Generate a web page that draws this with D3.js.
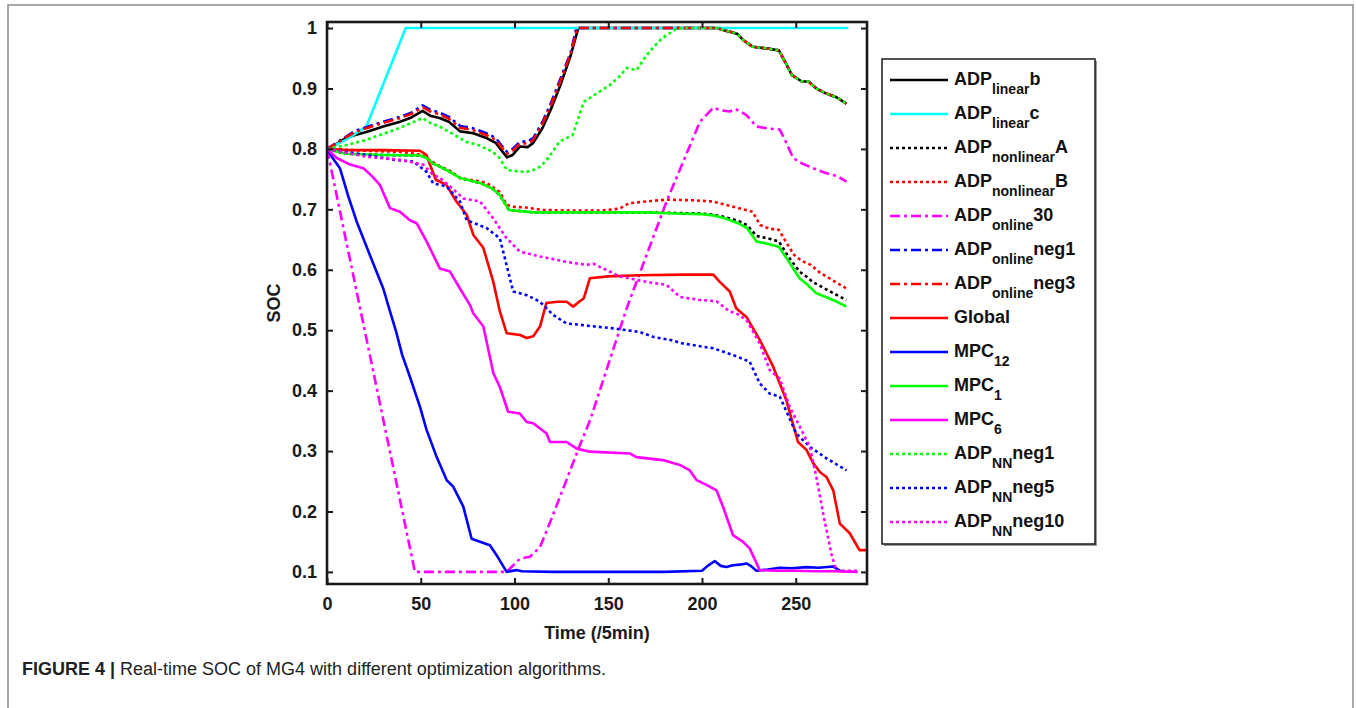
<!DOCTYPE html>
<html>
<head>
  <meta charset="utf-8">
  <title>Real-time SOC of MG4</title>
  <script src="https://d3js.org/d3.v7.min.js"></script>
  <style>
    body { margin: 0; background: #fff; }
    svg text { font-family: "Liberation Sans", Arial, sans-serif; }
  </style>
</head>
<body>
  <div id="chart"></div>

  <script>
    const xTicks = [0, 50, 100, 150, 200, 250];
    const yTicks = [0.1, 0.2, 0.3, 0.4, 0.5, 0.6, 0.7, 0.8, 0.9, 1];

    // shared decline of the curves that sat at SOC = 1
    const topDecline = [[208,1.0],[212,0.996],[215,0.994],[219,0.99],[222,0.98],[227,0.969],[235,0.966],[241,0.963],
      [245,0.94],[248,0.922],[253,0.912],[257,0.911],[261,0.9],[266,0.892],[272,0.885],[277,0.875]];

    const adpLinearB = [[0,0.8],[5,0.808],[10,0.818],[15,0.823],[21,0.828],[30,0.837],[39,0.845],[45,0.852],[51,0.863],
      [55,0.855],[60,0.851],[65,0.845],[71,0.829],[78,0.826],[85,0.818],[90,0.81],[93,0.798],[96,0.786],[99,0.79],
      [103,0.804],[107,0.803],[110,0.81],[115,0.835],[120,0.87],[125,0.91],[130,0.955],[134,1.0], ...topDecline];
    const adpLinearC = [[0,0.8],[10,0.815],[21,0.837],[42,1.0],[278,1.0]];
    const adpNonlinearA = [[0,0.8],[10,0.792],[30,0.79],[50,0.789],[53,0.785],[57,0.775],[60,0.771],[65,0.763],[71,0.752],
      [76,0.748],[82,0.743],[88,0.735],[92,0.724],[97,0.699],[110,0.695],[140,0.695],[170,0.695],[186,0.694],[200,0.693],
      [206,0.691],[211,0.688],[216,0.684],[220,0.68],[224,0.674],[229,0.656],[235,0.652],[241,0.647],[246,0.622],
      [252,0.597],[256,0.588],[259,0.58],[266,0.568],[272,0.558],[277,0.55]];
    const adpNonlinearB = [[0,0.8],[20,0.797],[40,0.795],[51,0.79],[56,0.779],[60,0.772],[66,0.763],[71,0.752],[78,0.748],
      [85,0.744],[92,0.729],[96,0.707],[100,0.704],[106,0.703],[115,0.699],[130,0.698],[145,0.698],[156,0.701],[161,0.71],
      [170,0.713],[181,0.716],[195,0.715],[206,0.713],[211,0.709],[216,0.705],[222,0.7],[227,0.696],[231,0.674],
      [236,0.668],[241,0.666],[245,0.645],[249,0.625],[253,0.615],[258,0.608],[263,0.595],[270,0.582],[277,0.569]];
    const adpOnline30 = [[0,0.8],[46.9,0.1],[95.8,0.1],[100,0.113],[103,0.122],[108.2,0.125],[113.6,0.141],[120,0.19],
      [134.9,0.31],[140.2,0.35],[159.8,0.536],[181.1,0.713],[198.9,0.845],[206,0.868],[210,0.864],[214.8,0.862],
      [218,0.866],[223.7,0.856],[229,0.837],[235,0.834],[241.5,0.832],[245,0.81],[248.6,0.785],[254,0.775],
      [259.3,0.768],[266,0.76],[272,0.755],[277.1,0.746]];
    const adpOnlineNeg1 = [[0,0.8],[5,0.81],[10,0.82],[15,0.83],[21,0.836],[30,0.845],[39,0.853],[45,0.86],[51,0.872],
      [55,0.865],[60,0.86],[65,0.853],[71,0.838],[78,0.834],[85,0.826],[90,0.818],[93,0.806],[96,0.795],[99,0.8],
      [103,0.812],[107,0.812],[110,0.818],[115,0.845],[120,0.88],[125,0.92],[130,0.96],[133,1.0], ...topDecline];
    const adpOnlineNeg3 = [[0,0.8],[5,0.809],[10,0.819],[15,0.828],[21,0.834],[30,0.843],[39,0.851],[45,0.858],[51,0.869],
      [55,0.862],[60,0.857],[65,0.85],[71,0.835],[78,0.831],[85,0.823],[90,0.815],[93,0.803],[96,0.792],[99,0.797],
      [103,0.809],[107,0.809],[110,0.815],[115,0.842],[120,0.876],[125,0.916],[130,0.958],[133.5,1.0], ...topDecline];
    const globalOpt = [[0,0.8],[10,0.798],[30,0.798],[49.6,0.797],[53,0.79],[58,0.749],[63.6,0.741],[69,0.713],[74.5,0.691],
      [78,0.658],[83.4,0.636],[88.7,0.58],[92.2,0.531],[95.8,0.495],[103,0.492],[106.5,0.487],[110,0.49],[113.6,0.506],
      [117,0.545],[123,0.547],[127.8,0.547],[131.3,0.539],[134.5,0.547],[137,0.553],[140.2,0.586],[150,0.589],
      [166.8,0.591],[190,0.592],[206,0.592],[209.5,0.58],[214.8,0.564],[218.3,0.536],[223.7,0.522],[230.8,0.484],
      [237.9,0.44],[245,0.384],[251.2,0.315],[255.7,0.302],[259.3,0.28],[263,0.265],[266.4,0.257],[270,0.235],
      [273.5,0.18],[278.8,0.164],[284,0.136],[288,0.136]];
    const mpc12 = [[0,0.8],[3,0.785],[6.9,0.768],[11,0.725],[15.8,0.68],[22.9,0.624],[30,0.569],[33.6,0.531],[37.1,0.495],
      [40,0.46],[44.2,0.423],[49.6,0.373],[53.1,0.335],[58.5,0.29],[63.8,0.252],[67.3,0.241],[72.7,0.208],[77.1,0.155],
      [81.6,0.15],[86.9,0.144],[91,0.125],[95.8,0.1],[101,0.103],[104,0.101],[120,0.1],[150,0.1],[180,0.1],[200,0.102],
      [203,0.11],[206.8,0.118],[210,0.11],[213,0.108],[216.5,0.111],[220,0.112],[223.7,0.114],[226,0.11],[229,0.102],
      [235,0.104],[241.5,0.107],[248,0.106],[255.7,0.108],[262,0.107],[269.9,0.109],[273.5,0.102],[276,0.101]];
    const mpc1 = [[0,0.8],[10,0.792],[30,0.79],[50,0.789],[53,0.785],[57,0.775],[60,0.771],[65,0.763],[71,0.752],
      [76,0.748],[82,0.743],[88,0.735],[92,0.724],[97,0.699],[110,0.695],[140,0.695],[170,0.695],[186,0.693],[200,0.692],
      [206,0.69],[211,0.686],[215,0.682],[220,0.676],[224,0.669],[229,0.647],[235,0.643],[241,0.638],[246,0.615],
      [252,0.586],[256,0.576],[261,0.561],[266,0.555],[272,0.547],[277,0.539]];
    const mpc6 = [[0,0.8],[5.2,0.785],[12.3,0.774],[19.4,0.768],[24,0.755],[28.3,0.74],[33.6,0.702],[38.9,0.696],
      [44.2,0.682],[47.8,0.677],[53.1,0.647],[60.2,0.602],[65.6,0.597],[70.9,0.569],[76.2,0.542],[78,0.528],[83.4,0.506],
      [88.7,0.429],[92.2,0.406],[96.6,0.365],[102.9,0.362],[106.5,0.348],[110,0.346],[117.1,0.329],[118.9,0.315],
      [127.8,0.315],[133.2,0.304],[140.2,0.299],[161.5,0.296],[165,0.29],[179.1,0.285],[188.2,0.277],[193.5,0.268],
      [197.1,0.252],[202.4,0.244],[207.7,0.235],[211.2,0.208],[216.5,0.161],[221.8,0.15],[225.4,0.139],[230.8,0.103],
      [240,0.102],[250,0.102],[260,0.101],[270,0.101],[283,0.1]];
    const nnNeg1 = [[0,0.8],[10,0.806],[21,0.815],[30,0.825],[39,0.835],[45,0.843],[51,0.851],[55,0.843],[60,0.837],
      [67,0.825],[74,0.812],[81,0.806],[88,0.796],[92,0.785],[96,0.765],[101,0.763],[106,0.762],[110,0.765],[114,0.771],
      [118,0.785],[124,0.812],[131,0.823],[134,0.85],[137,0.878],[143,0.89],[151,0.906],[156,0.92],[160,0.934],
      [165,0.93],[170,0.953],[174,0.968],[178,0.981],[182,0.99],[186,0.998],[190,1.0], ...topDecline];
    const nnNeg5 = [[0,0.8],[10,0.795],[21.1,0.79],[35.4,0.782],[46.1,0.779],[53.1,0.762],[56.6,0.743],[63.8,0.738],
      [70.9,0.713],[74.5,0.682],[85.1,0.669],[92.2,0.652],[99.3,0.564],[106.5,0.558],[113.6,0.547],[120.7,0.525],
      [127.8,0.511],[134.9,0.509],[140.2,0.507],[152.6,0.503],[166.8,0.497],[173.9,0.489],[182.8,0.484],[189.9,0.478],
      [206,0.47],[216.5,0.459],[225.4,0.448],[230.8,0.412],[236.1,0.395],[241.5,0.39],[250.3,0.329],[257.5,0.307],
      [266.4,0.288],[277.1,0.268]];
    const nnNeg10 = [[0,0.8],[21.1,0.787],[38.9,0.782],[51.3,0.774],[56.6,0.757],[60.2,0.752],[65.6,0.738],[72.7,0.718],
      [81.6,0.713],[88.7,0.685],[95.8,0.652],[102.9,0.63],[113.6,0.622],[127.8,0.613],[138.4,0.608],[142,0.61],
      [156.2,0.589],[170.4,0.58],[181.1,0.575],[188.2,0.555],[198.9,0.55],[207.7,0.548],[214.8,0.531],[218.3,0.528],
      [223.7,0.517],[230.8,0.478],[236.1,0.434],[241.5,0.42],[246.8,0.373],[252.2,0.34],[257.5,0.307],[261,0.257],
      [264.6,0.197],[269,0.13],[271.6,0.102],[283.3,0.102]];

    // legend label parts: main text, subscript, tail
    const labelMain = ["ADP","ADP","ADP","ADP","ADP","ADP","ADP","Global","MPC","MPC","MPC","ADP","ADP","ADP"];
    const labelSub  = ["linear","linear","nonlinear","nonlinear","online","online","online","","12","1","6","NN","NN","NN"];
    const labelTail = ["b","c","A","B","30","neg1","neg3","","","","","neg1","neg5","neg10"];

    const seriesData = [adpLinearB, adpLinearC, adpNonlinearA, adpNonlinearB, adpOnline30, adpOnlineNeg1, adpOnlineNeg3,
      globalOpt, mpc12, mpc1, mpc6, nnNeg1, nnNeg5, nnNeg10];
    const colors = ["#000000","#00ffff","#000000","#ff0000","#ff00ff","#0000ff","#ff0000",
      "#ff0000","#0000ff","#00ff00","#ff00ff","#00ff00","#0000ff","#ff00ff"];
    const styles = ["solid","solid","dot","dot","dashdot","dashdot","dashdot",
      "solid","solid","solid","solid","dot","dot","dot"];
    const dashes = { solid: null, dot: "3,3", dashdot: "10,4,3,4" };

    const W = 1356, H = 708;
    const plot = { left: 327, right: 867, top: 22, bottom: 584 };

    const svg = d3.select("#chart").append("svg")
      .attr("width", W)
      .attr("height", H);

    // outer figure frame
    svg.append("rect")
      .attr("x", 8).attr("y", 5)
      .attr("width", 1345).attr("height", 720)
      .attr("fill", "none")
      .attr("stroke", "#8a8a8a")
      .attr("stroke-width", 1.5);

    const x = d3.scaleLinear().domain([0, 288]).range([plot.left, plot.right]);
    const y = d3.scaleLinear().domain([0.08, 1.01]).range([plot.bottom, plot.top]);

    const line = d3.line()
      .x(d => x(d[0]))
      .y(d => y(d[1]));

    svg.append("defs").append("clipPath").attr("id", "clip")
      .append("rect")
      .attr("x", plot.left).attr("y", plot.top)
      .attr("width", plot.right - plot.left).attr("height", plot.bottom - plot.top);

    const lines = svg.append("g").attr("clip-path", "url(#clip)");
    seriesData.forEach((s, i) => {
      lines.append("path")
        .datum(s)
        .attr("fill", "none")
        .attr("stroke", colors[i])
        .attr("stroke-width", 2.6)
        .attr("stroke-linejoin", "round")
        .attr("stroke-dasharray", dashes[styles[i]])
        .attr("d", line);
    });

    // axes with inward ticks on all four sides
    const axisFont = g => g.selectAll("text")
      .style("font-size", "18px")
      .style("font-weight", "bold")
      .attr("fill", "#1a1a1a");

    svg.append("g")
      .attr("transform", "translate(0," + plot.bottom + ")")
      .call(d3.axisBottom(x).tickValues(xTicks).tickSizeInner(-6).tickSizeOuter(0).tickPadding(13))
      .call(axisFont)
      .call(g => g.select(".domain").remove());

    svg.append("g")
      .attr("transform", "translate(" + plot.left + ",0)")
      .call(d3.axisLeft(y).tickValues(yTicks).tickFormat(d => d === 1 ? "1" : d3.format(".1f")(d))
        .tickSizeInner(-6).tickSizeOuter(0).tickPadding(10))
      .call(axisFont)
      .call(g => g.select(".domain").remove());

    svg.append("g")
      .attr("transform", "translate(0," + plot.top + ")")
      .call(d3.axisTop(x).tickValues(xTicks).tickSizeInner(-6).tickSizeOuter(0).tickFormat(""))
      .call(g => g.select(".domain").remove());

    svg.append("g")
      .attr("transform", "translate(" + plot.right + ",0)")
      .call(d3.axisRight(y).tickValues(yTicks).tickSizeInner(-6).tickSizeOuter(0).tickFormat(""))
      .call(g => g.select(".domain").remove());

    svg.selectAll(".tick line").attr("stroke", "#1a1a1a").attr("stroke-width", 2);

    svg.append("rect")
      .attr("x", plot.left).attr("y", plot.top)
      .attr("width", plot.right - plot.left).attr("height", plot.bottom - plot.top)
      .attr("fill", "none")
      .attr("stroke", "#1a1a1a")
      .attr("stroke-width", 2.6);

    // axis titles
    svg.append("text")
      .attr("x", (plot.left + plot.right) / 2)
      .attr("y", 639)
      .attr("text-anchor", "middle")
      .style("font-size", "18px")
      .style("font-weight", "bold")
      .attr("fill", "#1a1a1a")
      .text("Time (/5min)");

    svg.append("text")
      .attr("transform", "translate(280,303) rotate(-90)")
      .attr("text-anchor", "middle")
      .style("font-size", "18px")
      .style("font-weight", "bold")
      .attr("fill", "#1a1a1a")
      .text("SOC");

    // legend
    const leg = { x: 882, y: 59, w: 213, h: 485, row0: 80, step: 34 };
    svg.append("rect")
      .attr("x", leg.x + 2).attr("y", leg.y + 2)
      .attr("width", leg.w).attr("height", leg.h)
      .attr("fill", "#9a9a9a");
    svg.append("rect")
      .attr("x", leg.x).attr("y", leg.y)
      .attr("width", leg.w).attr("height", leg.h)
      .attr("fill", "#fff")
      .attr("stroke", "#1a1a1a")
      .attr("stroke-width", 1.5);

    seriesData.forEach((s, i) => {
      const ly = leg.row0 + i * leg.step;
      svg.append("line")
        .attr("x1", 890).attr("x2", 948)
        .attr("y1", ly).attr("y2", ly)
        .attr("stroke", colors[i])
        .attr("stroke-width", 2.6)
        .attr("stroke-dasharray", dashes[styles[i]]);

      const t = svg.append("text")
        .attr("x", 954)
        .attr("y", ly + 5)
        .style("font-size", "18px")
        .style("font-weight", "bold")
        .attr("fill", "#111");
      t.append("tspan").text(labelMain[i]);
      if (labelSub[i]) {
        t.append("tspan").attr("dy", 9).style("font-size", "14px").text(labelSub[i]);
        if (labelTail[i]) t.append("tspan").attr("dy", -9).text(labelTail[i]);
      }
    });

    // caption
    const cap = svg.append("text")
      .attr("x", 22)
      .attr("y", 675)
      .style("font-size", "18px")
      .attr("fill", "#222");
    cap.append("tspan").style("font-weight", "bold").text("FIGURE 4 | ");
    cap.append("tspan").text("Real-time SOC of MG4 with different optimization algorithms.");
  </script>
</body>
</html>
